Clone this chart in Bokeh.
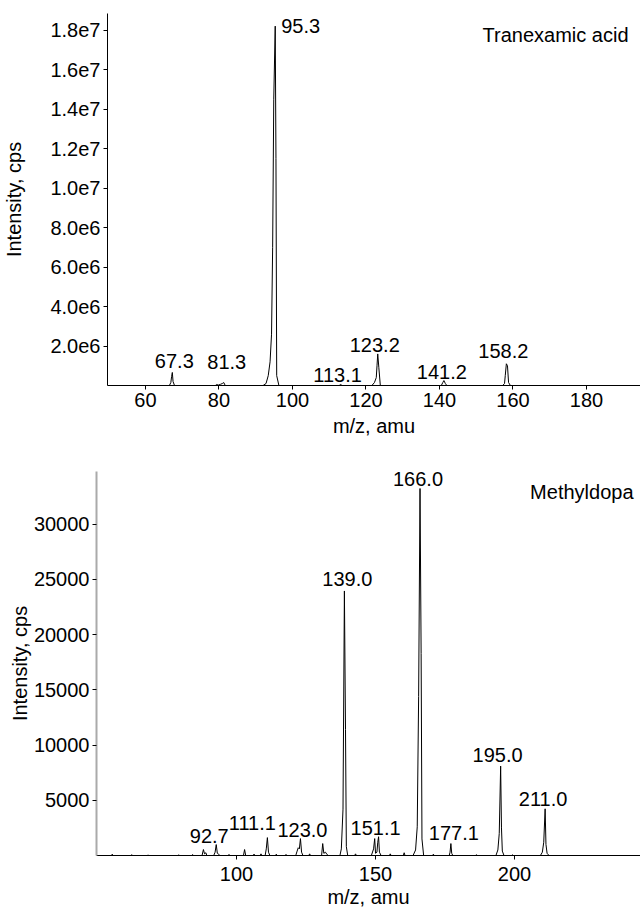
from bokeh.plotting import figure
from bokeh.models import ColumnDataSource, Label, FixedTicker
from bokeh.core.properties import value
from bokeh.embed import file_html
from bokeh.resources import INLINE

FONT = "Liberation Sans"
FS = "20px"

# ---------------- Tranexamic acid spectrum (intensity in cps) ----------------
tran_mz = [50.0, 66.5, 66.9, 67.1, 67.3, 67.5, 67.9,
           79.0, 79.4, 79.8, 80.4, 80.9, 81.3, 81.7,
           92.0, 92.8, 93.4, 93.9, 94.3, 94.6, 94.9, 95.3, 95.5, 95.7, 96.3,
           112.7, 113.1, 113.5,
           121.6, 122.3, 122.8, 123.0, 123.2, 123.5, 123.9,
           140.5, 140.9, 141.2, 141.6, 142.0,
           157.2, 157.7, 157.9, 158.2, 158.5, 158.8, 159.3,
           195.0]
tran_int = [0, 0, 150000, 450000, 660000, 200000, 0,
            0, 50000, 20000, 60000, 100000, 150000, 0,
            0, 100000, 500000, 1200000, 2600000, 7000000, 14500000, 18200000, 11500000, 500000, 0,
            0, 50000, 0,
            0, 150000, 400000, 1000000, 1600000, 900000, 0,
            0, 150000, 250000, 100000, 0,
            0, 100000, 500000, 1100000, 1000000, 150000, 0,
            0]
tran_peaks = ["67.3", "81.3", "95.3", "113.1", "123.2", "141.2", "158.2"]
tran_peak_mz = [67.3, 81.3, 95.3, 113.1, 123.2, 141.2, 158.2]
tran_peak_int = [660000, 150000, 18200000, 50000, 1600000, 250000, 1100000]
tran_yticks = [2e6, 4e6, 6e6, 8e6, 1e7, 1.2e7, 1.4e7, 1.6e7, 1.8e7]
tran_ylabels = ["2.0e6", "4.0e6", "6.0e6", "8.0e6", "1.0e7", "1.2e7", "1.4e7", "1.6e7", "1.8e7"]
tran_xticks = [60, 80, 100, 120, 140, 160, 180]

# ---------------- Methyldopa spectrum ----------------
meth_mz = [50.0,
           55.0, 55.3, 55.6, 62.0, 62.3, 62.6, 68.0, 68.2, 68.4, 79.0, 79.2, 79.4,
           84.0, 84.2, 84.4,
           87.6, 88.1, 88.5, 89.0, 89.3,
           91.8, 92.3, 92.7, 93.1, 93.6, 94.0,
           97.0, 97.3, 97.6,
           102.5, 102.9, 103.3,
           106.0, 106.3, 106.6, 108.5, 108.8, 109.1,
           110.3, 110.7, 111.1, 111.5, 112.0,
           114.0, 114.3, 114.6, 117.5, 117.8, 118.1,
           121.3, 121.8, 122.2, 122.6, 123.0, 123.4, 123.9,
           126.0, 126.3, 126.6,
           130.6, 131.0, 131.4, 132.0, 132.5, 133.0,
           137.2, 137.7, 138.3, 138.8, 139.2, 139.5, 140.0,
           142.5, 142.8, 143.1,
           148.5, 149.3, 149.7, 150.0, 150.5, 150.8, 151.1, 151.4, 152.0,
           155.0, 155.3, 155.6, 160.0, 160.3, 160.6,
           163.5, 164.4, 165.0, 165.5, 166.0, 166.4, 166.7, 167.3,
           170.5, 170.8, 171.1,
           176.5, 176.8, 177.1, 177.4, 177.8,
           186.0, 186.3, 186.6,
           193.3, 194.0, 194.5, 195.0, 195.3, 195.6, 196.2,
           199.0, 199.3, 199.6,
           209.3, 210.0, 210.5, 211.0, 211.3, 211.7, 212.4,
           245.0]
meth_int = [0,
            0, 120, 0, 0, 80, 0, 0, 60, 0, 0, 70, 0,
            0, 90, 0,
            0, 540, 150, 250, 0,
            0, 300, 990, 200, 120, 0,
            0, 100, 0,
            0, 540, 0,
            0, 130, 0, 0, 150, 0,
            0, 600, 1620, 300, 0,
            0, 120, 0, 0, 100, 0,
            0, 400, 700, 600, 1530, 300, 0,
            0, 150, 0,
            0, 1080, 200, 300, 100, 0,
            0, 600, 4200, 23960, 11400, 800, 0,
            0, 150, 0,
            0, 600, 1530, 200, 300, 1200, 1700, 300, 0,
            0, 150, 0, 0, 250, 0,
            0, 500, 2600, 14400, 33240, 18300, 1500, 0,
            0, 120, 0,
            0, 300, 1080, 200, 0,
            0, 80, 0,
            0, 500, 2000, 8100, 2500, 400, 0,
            0, 60, 0,
            0, 300, 1200, 4230, 1000, 200, 0,
            0]
meth_peaks = ["92.7", "111.1", "123.0", "139.0", "151.1", "166.0", "177.1", "195.0", "211.0"]
meth_peak_mz = [92.7, 111.1, 123.0, 138.8, 151.1, 166.0, 177.1, 195.0, 211.0]
meth_peak_int = [990, 1620, 1530, 23960, 1700, 33240, 1080, 8100, 4230]
meth_yticks = [5000, 10000, 15000, 20000, 25000, 30000]
meth_xticks = [100, 150, 200]

# label pixel offsets (layout only)
tran_dx = [2, 3, 6, -3, -3, -2, -3]
tran_dy = [-4, -14, 0, -3, -2, -2, -6]
tran_align = ["center", "center", "left", "center", "center", "center", "center"]
tran_base = ["bottom", "bottom", "middle", "bottom", "bottom", "bottom", "bottom"]
meth_dx = [-7, -15, 2, 3, -3, -2, 3, -3, -2]
meth_dy = [-2, -8, -2, -5, -2, -3, -4, -4, -3]

X1 = (49.66, 194.7)
Y1 = (0, 18.84e6)
X2 = (49.64, 245.3)
Y2 = (0, 34780)


def style_axes(p, xticks, yticks, ylabels=None, ycolor="black"):
    p.xaxis.ticker = FixedTicker(ticks=xticks)
    p.yaxis.ticker = FixedTicker(ticks=yticks)
    if ylabels:
        p.yaxis.major_label_overrides = {t: l for t, l in zip(yticks, ylabels)}
    for ax in (p.xaxis[0], p.yaxis[0]):
        ax.major_label_text_font = FONT
        ax.major_label_text_font_size = FS
        ax.major_label_text_color = "black"
        ax.axis_label_text_font = FONT
        ax.axis_label_text_font_size = FS
        ax.axis_label_text_font_style = "normal"
        ax.axis_label_text_color = "black"
        ax.minor_tick_line_color = None
        ax.major_tick_in = 0
        ax.major_tick_out = 4
        ax.major_label_standoff = 3
    p.xaxis.axis_line_color = "black"
    p.xaxis.major_tick_line_color = "black"
    p.yaxis.axis_line_color = ycolor
    p.yaxis.major_tick_line_color = "black"
    p.xgrid.visible = False
    p.ygrid.visible = False
    p.outline_line_color = None


# ---------------- top figure ----------------
p1 = figure(frame_width=533, frame_height=372, output_backend="svg", toolbar_location=None,
            x_range=X1, y_range=Y1,
            min_border_left=107, min_border_right=0, min_border_top=13, min_border_bottom=50,
            x_axis_label="m/z, amu", y_axis_label="Intensity, cps")
style_axes(p1, tran_xticks, tran_yticks, tran_ylabels)
p1.yaxis.axis_label_standoff = 22
p1.xaxis.major_label_standoff = 3
p1.xaxis.axis_label_standoff = 5
p1.line(tran_mz, tran_int, line_color="black", line_width=1)
src1 = ColumnDataSource(dict(x=tran_peak_mz, y=tran_peak_int, t=tran_peaks, dx=tran_dx, dy=tran_dy,
                             al=tran_align, bl=tran_base))
p1.text(x="x", y="y", text="t", x_offset="dx", y_offset="dy", text_align="al", text_baseline="bl",
        text_font=value(FONT), text_font_size=FS, text_color="black", source=src1)
p1.add_layout(Label(x=X1[1], y=Y1[1], x_offset=-12, y_offset=-21, text="Tranexamic acid",
                    text_align="right", text_baseline="middle", text_font=FONT, text_font_size=FS,
                    text_color="black"))

# ---------------- bottom figure ----------------
p2 = figure(frame_width=544, frame_height=384, output_backend="svg", toolbar_location=None,
            x_range=X2, y_range=Y2,
            min_border_left=96, min_border_right=0, min_border_top=32, min_border_bottom=45,
            x_axis_label="m/z, amu", y_axis_label="Intensity, cps")
style_axes(p2, meth_xticks, meth_yticks, ycolor="#aaaaaa")
p2.yaxis.axis_line_width = 2
p2.yaxis.axis_label_standoff = 0
p2.xaxis.major_label_standoff = 7
p2.xaxis.axis_label_standoff = 2
p2.line(meth_mz, meth_int, line_color="black", line_width=1)
src2 = ColumnDataSource(dict(x=meth_peak_mz, y=meth_peak_int, t=meth_peaks, dx=meth_dx, dy=meth_dy))
p2.text(x="x", y="y", text="t", x_offset="dx", y_offset="dy", text_align="center", text_baseline="bottom",
        text_font=value(FONT), text_font_size=FS, text_color="black", source=src2)
p2.add_layout(Label(x=X2[1], y=Y2[1], x_offset=-7, y_offset=-20, text="Methyldopa",
                    text_align="right", text_baseline="middle", text_font=FONT, text_font_size=FS,
                    text_color="black"))

open("out.html", "w").write(file_html([p1, p2], INLINE))
